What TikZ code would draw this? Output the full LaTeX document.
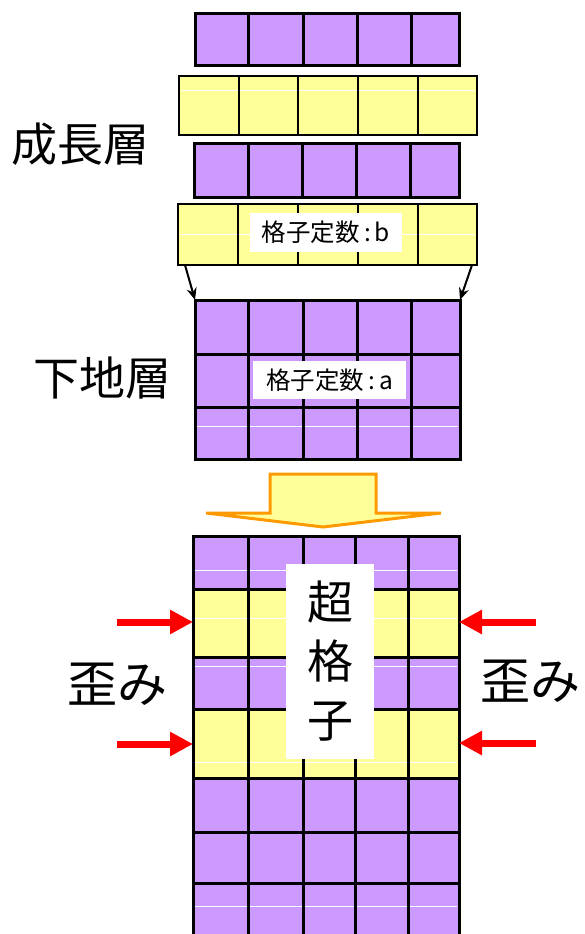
\documentclass[tikz,border=0pt]{standalone}
\usepackage{fontspec}
\setmainfont{Noto Sans CJK JP}
\usetikzlibrary{arrows.meta}
\definecolor{lpurple}{HTML}{CC99FF}
\definecolor{lyellow}{HTML}{FFFF99}
\definecolor{orng}{HTML}{FF9900}
\definecolor{rred}{HTML}{FF0000}
\begin{document}
\begin{tikzpicture}[x=1pt,y=-1pt,
  purprow/.style={draw=black, fill=lpurple, line width=3pt, inner sep=0pt, outer sep=0pt},
  yelrow/.style={draw=black, fill=lyellow, line width=2pt, inner sep=0pt, outer sep=0pt},
  thickgrid/.style={black, line width=3pt},
  thingrid/.style={black, line width=2pt},
  whiteline/.style={white, line width=0.8pt},
  labelbox/.style={fill=white, inner sep=0pt, font=\fontsize{24.5}{24.5}\selectfont},
  bigtext/.style={inner sep=0pt, font=\fontsize{46}{46}\selectfont},
  straintext/.style={inner sep=0pt, font=\fontsize{50}{50}\selectfont},
  blackarrow/.style={black, line width=2pt, -{Stealth[length=12pt,width=10pt]}},
  redarrow/.style={rred, line width=7pt, -{Triangle[length=23pt,width=23pt]}}
]
\useasboundingbox (0,0) rectangle (585,934);

% growth layer rows
\node[purprow, minimum width=264pt, minimum height=52pt] (r1) at (327,40) {};
\foreach \x in {248,303,357,411} \draw[thickgrid] (r1.north -| \x,0) -- (r1.south -| \x,0);

\node[yelrow, minimum width=298pt, minimum height=59pt] (r2) at (328,105.5) {};
\draw[whiteline] (181,90) -- (475,90);
\foreach \x in {239,298,358,418} \draw[thingrid] (r2.north -| \x,0) -- (r2.south -| \x,0);

\node[purprow, minimum width=265pt, minimum height=54pt] (r3) at (326.5,170) {};
\foreach \x in {248,302,356,410} \draw[thickgrid] (r3.north -| \x,0) -- (r3.south -| \x,0);

\node[yelrow, minimum width=299pt, minimum height=61pt] (r4) at (327.5,234.5) {};
\draw[whiteline] (180,234) -- (475,234);
\foreach \x in {238,298,358,418} \draw[thingrid] (r4.north -| \x,0) -- (r4.south -| \x,0);
\node[labelbox, minimum width=152pt, minimum height=39pt] (lb) at (326,232.5) {格子定数\,:\,b};

% substrate
\node[purprow, minimum width=265pt, minimum height=159pt] (sub) at (327.5,379.5) {};
\draw[whiteline] (197,426) -- (458,426);
\foreach \y in {354,407} \draw[thickgrid] (sub.west |- 0,\y) -- (sub.east |- 0,\y);
\foreach \x in {248,303,357,411} \draw[thickgrid] (sub.north -| \x,0) -- (sub.south -| \x,0);
\draw[black, line width=3pt] (sub.north west) rectangle (sub.south east);
\node[labelbox, minimum width=153pt, minimum height=38pt] (la) at (329.5,380) {格子定数\,:\,a};

% arrows from growth layer to substrate
\draw[blackarrow] ([xshift=7pt]r4.south west) -- (sub.north west);
\draw[blackarrow] ([xshift=-5pt]r4.south east) -- (sub.north east);

% big orange arrow
\draw[orng, line width=3pt, fill=lyellow, line join=miter]
  (270,474) -- (376,474) -- (376,513) -- (441,513) -- (323,527) -- (206,513) -- (270,513) -- cycle;

% superlattice
\fill[lpurple] (193,536) rectangle (459,589);
\fill[lyellow] (193,589) rectangle (459,657);
\fill[lpurple] (193,657) rectangle (459,709);
\fill[lyellow] (193,709) rectangle (459,778);
\fill[lpurple] (193,778) rectangle (459,940);
\foreach \y in {570,618,666,762,906} \draw[whiteline] (195,\y) -- (457,\y);
\node[draw=black, line width=3pt, inner sep=0pt, outer sep=0pt, minimum width=266pt, minimum height=404pt] (sl) at (326,738) {};
\foreach \y in {589,657,709,778,832,883} \draw[thickgrid] (sl.west |- 0,\y) -- (sl.east |- 0,\y);
\foreach \x in {248,303,355,408} \draw[thickgrid] (sl.north -| \x,0) -- (sl.south -| \x,0);
\node[fill=white, inner sep=0pt, minimum width=88pt, minimum height=195pt, align=center,
      font=\fontsize{46}{59}\selectfont] (sk) at (330,661.5) {超\\格\\子};

% strain arrows
\coordinate (la1) at (117,622);
\coordinate (la2) at (117,744);
\coordinate (ra1) at (536,622);
\coordinate (ra2) at (536,743);
\draw[redarrow] (la1) -- (sl.west |- la1);
\draw[redarrow] (la2) -- (sl.west |- la2);
\draw[redarrow] (ra1) -- (sl.east |- ra1);
\draw[redarrow] (ra2) -- (sl.east |- ra2);

% labels
\node[bigtext] (t1) at (81,144) {成長層};
\node[bigtext] (t2) at (102,378) {下地層};
\node[straintext] (t3) at (117,684) {歪み};
\node[straintext] (t4) at (530,681) {歪み};
\end{tikzpicture}
\end{document}
